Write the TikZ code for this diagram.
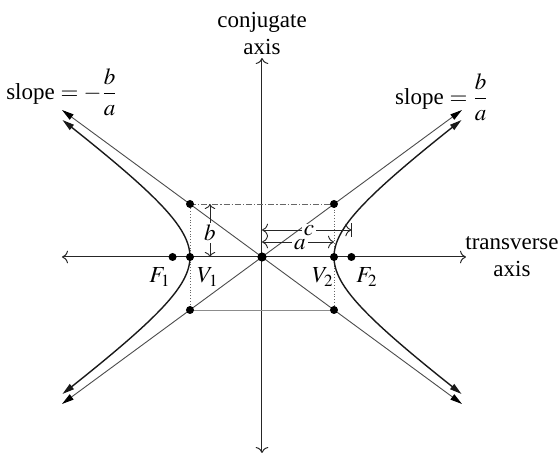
\documentclass[tikz,border=0pt]{standalone}
\usepackage{mathptmx}
\usepackage{fontspec}
\setmainfont{Liberation Serif}
\usetikzlibrary{arrows.meta}

\tikzset{
  axisline/.style={black!85, line width=0.5pt, {To[length=3pt]}-{To[length=3pt]}},
  asym/.style={black!70, line width=0.45pt, {Triangle[length=6pt,width=3.2pt,fill=black,color=black]}-{Triangle[length=6pt,width=3.2pt,fill=black,color=black]}},
  branch/.style={black!90, line width=0.7pt, {Triangle[length=6pt,width=3.2pt]}-{Triangle[length=6pt,width=3.2pt]}},
  boxline/.style={black!60, line width=0.4pt, densely dotted},
  dimline/.style={black!85, line width=0.45pt},
  dot/.style={circle, fill=black, inner sep=0pt, minimum size=4pt},
  lab/.style={inner sep=1pt}
}

\begin{document}
\begin{tikzpicture}[x=0.5pt, y=0.5pt, font=\fontsize{11.5}{13.5}\selectfont]
  \useasboundingbox (-262,-198) rectangle (297,257);

  \coordinate (O) at (0,0);
  \coordinate (Xl) at (-200,0);
  \coordinate (Xr) at (204,0);
  \coordinate (Yb) at (0,-196);
  \coordinate (Yt) at (0,199);
  \coordinate (TL) at (-72,53);
  \coordinate (TR) at (72,53);
  \coordinate (BL) at (-72,-53);
  \coordinate (BR) at (72,-53);
  \coordinate (A1) at (-200,147);
  \coordinate (A2) at (200,-147);
  \coordinate (A3) at (-200,-147);
  \coordinate (A4) at (200,147);

  \draw[axisline] (Xl) -- (Xr);
  \draw[axisline] (Yb) -- (Yt);

  \draw[boxline, dash pattern=on 3pt off 1pt on 0.6pt off 1pt] (TL) -- (TR);
  \draw[boxline] (TR) -- (BR);
  \draw[boxline, solid, black!45] (BR) -- (BL);
  \draw[boxline] (BL) -- (TL);

  \draw[asym] (A1) -- (A2);
  \draw[asym] (A3) -- (A4);

  \draw[branch] plot[domain=-137:137, samples=60, smooth, variable=\y] ({72*sqrt(1+(\y/53)^2)},\y);
  \draw[branch] plot[domain=-137:137, samples=60, smooth, variable=\y] ({-72*sqrt(1+(\y/53)^2)},\y);

  \node[dot, minimum size=4.6pt] (c0) at (O) {};
  \node[dot] (v1) at (-72,0) {};
  \node[dot] (v2) at (72,0) {};
  \node[dot] (f1) at (-89.4,0) {};
  \node[dot] (f2) at (89.4,0) {};
  \node[dot] (k1) at (TL) {};
  \node[dot] (k2) at (TR) {};
  \node[dot] (k3) at (BL) {};
  \node[dot] (k4) at (BR) {};

  \node (F1lab) at (-102,-20) {$F_1$};
  \node (V1lab) at (-54,-20) {$V_1$};
  \node (V2lab) at (61,-20) {$V_2$};
  \node (F2lab) at (105,-20) {$F_2$};

  \coordinate (bt) at (-52,53);
  \coordinate (bb) at (-52,0);
  \node[lab] (blab) at (-52,24) {$b$};
  \draw[dimline, -{To[length=2.5pt]}] (blab) -- (bt);
  \draw[dimline, -{To[length=2.5pt]}] (blab) -- (bb);

  \coordinate (cl) at (0,27);
  \coordinate (cr) at (89.4,27);
  \draw[dimline, {To[length=3pt]}-{To[length=3pt]}] (cl) -- (cr);
  \draw[dimline] (89.4,20) -- (89.4,34);
  \node[lab, fill=white] (clab) at (47,26) {$c$};

  \coordinate (al) at (0,15);
  \coordinate (ar) at (72,15);
  \draw[dimline, {To[length=3pt]}-{To[length=3pt]}] (al) -- (ar);
  \node[lab, fill=white] (alab) at (38,12) {$a$};

  \node[align=center] (conj) at (0,223) {conjugate\\axis};
  \node[align=center] (trans) at (250,0) {transverse\\axis};
  \node (sl1) at (-200,165) {slope $=-{\displaystyle\frac{b}{a}}$};
  \node (sl2) at (180,160) {slope $={\displaystyle\frac{b}{a}}$};
\end{tikzpicture}
\end{document}
